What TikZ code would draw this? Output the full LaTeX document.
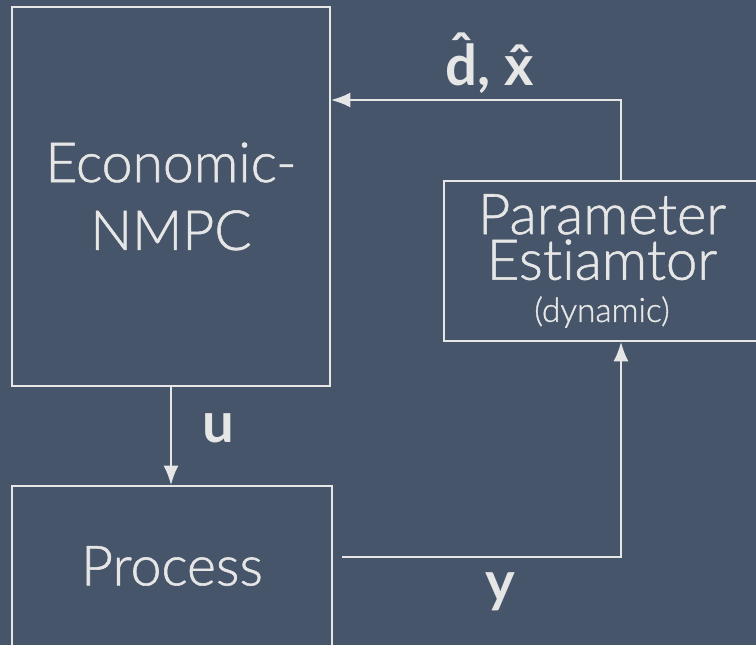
\documentclass[tikz,border=0pt]{standalone}
\usepackage{fontspec}
\setmainfont{Lato}[UprightFont=* Light,BoldFont=* Bold,
  UprightFeatures={FakeBold=1},Ligatures=NoCommon]
\usetikzlibrary{arrows.meta}

\definecolor{slate}{RGB}{70,85,106}
\definecolor{chalk}{RGB}{230,230,230}
% estimate hat on a letter
\newcommand{\est}[1]{\accent"02C6 #1}

\begin{document}
\begin{tikzpicture}[
    block/.style={draw=chalk,line width=1.1pt,text=chalk,align=center,inner sep=0pt},
    sig/.style={draw=chalk,line width=1.1pt,-{Latex[length=11pt,width=8.5pt]}},
    lbl/.style={text=chalk,font=\fontsize{32}{32}\selectfont\bfseries}]
  \fill[slate] (0,0) rectangle (15.12,12.9);
  \useasboundingbox (0,0) rectangle (15.12,12.9);
  % the three blocks
  \node[block,minimum width=6.36cm,minimum height=7.58cm,
    font=\fontsize{31.5}{38.6}\selectfont] (nmpc) at (3.42,8.97) {Economic-\\NMPC};
  \node[block,minimum width=6.32cm,minimum height=3.2cm,
    font=\fontsize{32}{26}\selectfont] (param) at (12.04,7.68)
    {Parameter\\Estiamtor\\[-2pt]{\fontsize{19}{20}\selectfont (dynamic)}};
  \node[block,minimum width=6.4cm,minimum height=3.2cm,
    font=\fontsize{31.5}{38.6}\selectfont] (process) at (3.44,1.58) {Process};
  % signals
  \coordinate (yout) at ([xshift=0.18cm,yshift=0.18cm]process.east);
  \draw[sig] (nmpc.south) -- (nmpc.south |- process.north);
  \draw[sig] (yout) -| ([xshift=0.38cm]param.south);
  \draw[sig] ([xshift=0.38cm]param.north) |- (nmpc.east |- 0,10.9);
  \node[lbl] (u) at (4.36,4.34) {u};
  \node[lbl] (y) at (10.0,1.06) {y};
  \node[lbl] (dx) at (9.8,11.64) {\est{d}, \est{x}};
\end{tikzpicture}
\end{document}
